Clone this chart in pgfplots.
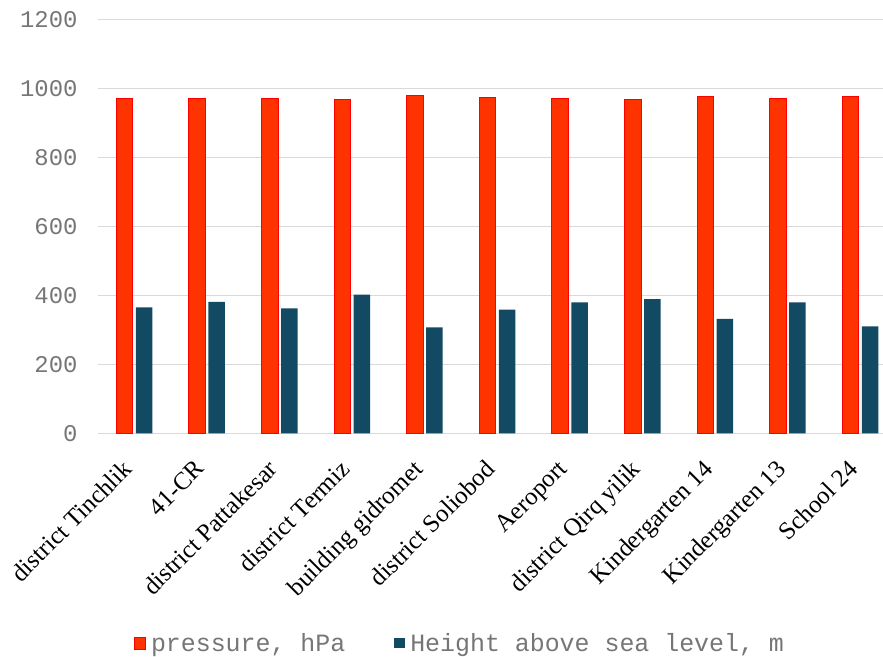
\documentclass[border=0pt]{standalone}
\usepackage{fontspec}
\setmainfont{Liberation Serif}
\setmonofont{Liberation Mono}
\usepackage{pgfplots}
\pgfplotsset{compat=1.18}
\definecolor{pred}{RGB}{255,51,0}
\definecolor{pedge}{RGB}{255,0,0}
\definecolor{pblue}{RGB}{19,74,99}
\definecolor{tgray}{RGB}{118,118,118}
\definecolor{gridc}{RGB}{217,217,217}
\begin{document}
\begin{tikzpicture}
\path[use as bounding box] (0bp,0bp) rectangle (883bp,657bp);
\begin{axis}[
  at={(98bp,223.7bp)}, anchor=south west,
  scale only axis, width=798.6bp, height=413.7bp,
  xmin=-0.5, xmax=10.5, ymin=0, ymax=1200,
  ytick={0,200,...,1200},
  xtick={0,...,10},
  xticklabels={district Tinchlik,41-CR,district Pattakesar,district Termiz,building gidromet,district Soliobod,Aeroport,district Qirq yilik,Kindergarten 14,Kindergarten 13,School 24},
  ybar=3bp, bar width=16.5bp,
  ymajorgrids, grid style={gridc, line width=1.5bp},
  axis line style={draw=none},
  major tick length=0pt,
  /pgf/number format/assume math mode=true,
  /pgf/number format/1000 sep={},
  y tick label style={font=\fontsize{24}{28}\selectfont\ttfamily, text=tgray, xshift=-17bp},
  x tick label style={font=\fontsize{25}{30}\selectfont, inner sep=0pt, xshift=-13bp, yshift=-25bp, rotate=45, anchor=north east},
  legend style={at={(axis description cs:0.0451,-0.507)}, anchor=west, legend columns=2, draw=none, fill=none,
    inner sep=0pt, outer sep=0pt,
    font=\fontsize{25}{29}\selectfont\ttfamily, text=tgray,
    /tikz/every even column/.append style={column sep=47bp}},
  legend cell align=left,
]
\addplot[fill=pred, draw=pedge, line width=1bp,
  legend image code/.code={\fill[pred,draw=pedge] (0bp,-6bp) rectangle (11bp,6bp); \path (14bp,0bp);}]
  coordinates {(0,970) (1,970) (2,970) (3,967) (4,980) (5,975) (6,970) (7,967) (8,977) (9,970) (10,977)};
\addlegendentry{pressure, hPa}
\addplot[fill=pblue, draw=none,
  legend image code/.code={\fill[pblue] (0bp,-5bp) rectangle (11bp,5bp); \path (14bp,0bp);}]
  coordinates {(0,365) (1,381) (2,362) (3,402) (4,307) (5,359) (6,380) (7,389) (8,332) (9,380) (10,310)};
\addlegendentry{Height above sea level, m}
\end{axis}
\end{tikzpicture}
\end{document}
